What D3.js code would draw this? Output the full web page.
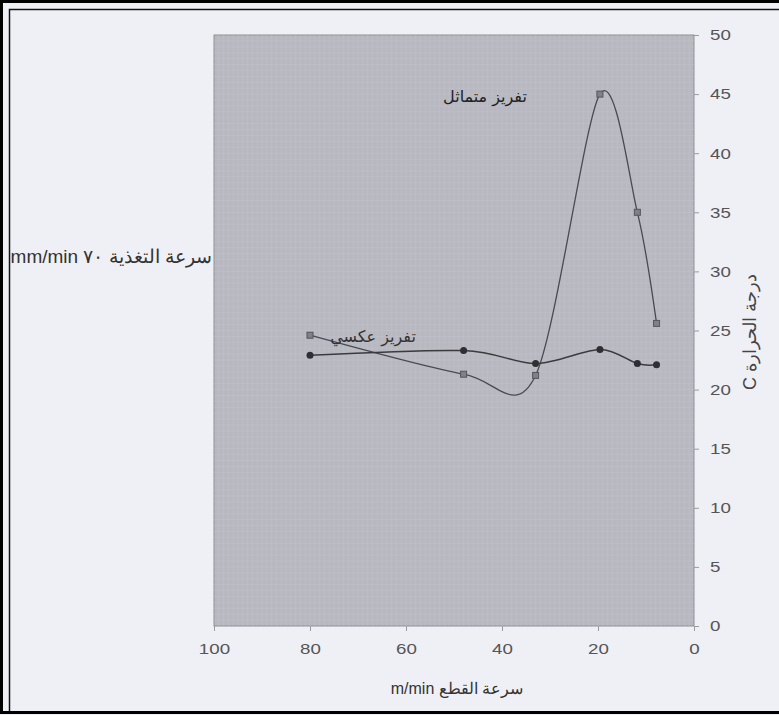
<!DOCTYPE html>
<html>
<head>
<meta charset="utf-8">
<script src="https://cdnjs.cloudflare.com/ajax/libs/d3/7.8.5/d3.min.js"></script>
<style>
  body { margin: 0; background: #eff0f5; }
  svg { display: block; font-family: "Liberation Sans", Arial, sans-serif; }
</style>
</head>
<body>
<div class="chart"></div>
<script>
// Data
var speeds = [80, 48, 33, 19.6, 11.8, 7.8];            // سرعة القطع m/min
var tempSquare = [24.6, 21.3, 21.2, 45.0, 35.0, 25.6];  // series with square markers
var tempCircle = [22.9, 23.3, 22.2, 23.4, 22.2, 22.1];  // series with round markers
var xTicks = [100, 80, 60, 40, 20, 0];
var yTicks = [0, 5, 10, 15, 20, 25, 30, 35, 40, 45, 50];

var svgWidth = 779;
var svgHeight = 715;

var svg = d3.select(".chart")
  .append("svg")
  .attr("width", svgWidth)
  .attr("height", svgHeight);

// page background
svg.append("rect")
  .attr("width", svgWidth)
  .attr("height", svgHeight)
  .attr("fill", "#eff0f5");

// scales (x runs backwards, 100 on the left)
var x = d3.scaleLinear().domain([100, 0]).range([214, 694]);
var y = d3.scaleLinear().domain([0, 50]).range([626, 35]);

// plot area
svg.append("rect")
  .attr("x", x(100))
  .attr("y", y(50))
  .attr("width", x(0) - x(100))
  .attr("height", y(0) - y(50))
  .attr("fill", "#b8b8c0")
  .attr("stroke", "#8f8f96")
  .attr("stroke-width", 1);

// fine paper grid texture
var grid = svg.append("g").attr("stroke", "#cacad1").attr("stroke-width", 0.6).attr("opacity", 0.55);
grid.selectAll(".vg")
  .data(d3.range(1, 100, 1))
  .enter().append("line")
    .attr("x1", function(d) { return x(d); })
    .attr("x2", function(d) { return x(d); })
    .attr("y1", y(50))
    .attr("y2", y(0));
grid.selectAll(".hg")
  .data(d3.range(0.5, 50, 0.5))
  .enter().append("line")
    .attr("y1", function(d) { return y(d); })
    .attr("y2", function(d) { return y(d); })
    .attr("x1", x(100))
    .attr("x2", x(0));

// axes
var stretch = 1.25;   // the scanned labels are wider than they are tall

var xAxis = svg.append("g")
  .attr("transform", "translate(0," + y(0) + ")")
  .call(d3.axisBottom(x).tickValues(xTicks).tickSize(5).tickPadding(12));
var yAxis = svg.append("g")
  .attr("transform", "translate(" + x(0) + ",0)")
  .call(d3.axisRight(y).tickValues(yTicks).tickSize(5).tickPadding(11));

[xAxis, yAxis].forEach(function(a) {
  a.select(".domain").remove();
  a.selectAll(".tick line").attr("stroke", "#9a9aa0");
  a.selectAll(".tick text")
    .attr("fill", "#555")
    .style("font-size", "15px")
    .style("font-family", "'Liberation Sans', Arial, sans-serif");
});
xAxis.selectAll(".tick text").attr("transform", "scale(" + stretch + ",1)");
yAxis.selectAll(".tick text")
  .attr("x", 16 / stretch)
  .attr("transform", "scale(" + stretch + ",1)");

// lines
var pointsSquare = speeds.map(function(s, i) { return [s, tempSquare[i]]; });
var pointsCircle = speeds.map(function(s, i) { return [s, tempCircle[i]]; });

var line = d3.line()
  .x(function(d) { return x(d[0]); })
  .y(function(d) { return y(d[1]); })
  .curve(d3.curveCardinal.tension(0.1));

svg.append("path")
  .datum(pointsSquare)
  .attr("d", line)
  .attr("fill", "none")
  .attr("stroke", "#4a4a52")
  .attr("stroke-width", 1.3);

svg.append("path")
  .datum(pointsCircle)
  .attr("d", line)
  .attr("fill", "none")
  .attr("stroke", "#3a3a40")
  .attr("stroke-width", 1.5);

// markers
svg.selectAll(".sq")
  .data(pointsSquare)
  .enter().append("rect")
    .attr("x", function(d) { return x(d[0]) - 3; })
    .attr("y", function(d) { return y(d[1]) - 3; })
    .attr("width", 6)
    .attr("height", 6)
    .attr("fill", "#808088")
    .attr("stroke", "#55555c")
    .attr("stroke-width", 1);

svg.selectAll(".ci")
  .data(pointsCircle)
  .enter().append("circle")
    .attr("cx", function(d) { return x(d[0]); })
    .attr("cy", function(d) { return y(d[1]); })
    .attr("r", 3.5)
    .attr("fill", "#2e2e33");

// annotations in the plot
svg.append("text")
  .attr("x", 485)
  .attr("y", 102)
  .attr("text-anchor", "middle")
  .attr("fill", "#222")
  .style("font-size", "16px")
  .style("font-family", "'DejaVu Sans', sans-serif")
  .text("تفريز متماثل");

svg.append("text")
  .attr("x", 373)
  .attr("y", 342)
  .attr("text-anchor", "middle")
  .attr("fill", "#333")
  .style("font-size", "16px")
  .style("font-family", "'DejaVu Sans', sans-serif")
  .text("تفريز عكسي");

// axis titles
svg.append("text")
  .attr("x", 457)
  .attr("y", 694)
  .attr("text-anchor", "middle")
  .attr("direction", "rtl")
  .attr("fill", "#333")
  .style("font-size", "16px")
  .text("سرعة القطع m/min");

svg.append("text")
  .attr("transform", "translate(756,332) rotate(-90)")
  .attr("text-anchor", "middle")
  .attr("direction", "rtl")
  .attr("fill", "#444")
  .style("font-size", "18px")
  .text("درجة الحرارة C");

svg.append("text")
  .attr("x", 212)
  .attr("y", 263)
  .attr("text-anchor", "start")
  .attr("direction", "rtl")
  .attr("fill", "#333")
  .style("font-size", "19px")
  .text("سرعة التغذية ٧٠ mm/min");

// scanned page frame
svg.append("rect")
  .attr("x", 1.5)
  .attr("y", 1.5)
  .attr("width", svgWidth + 5)
  .attr("height", svgHeight - 4)
  .attr("fill", "none")
  .attr("stroke", "#000")
  .attr("stroke-width", 3);
svg.append("path")
  .attr("d", "M9.5," + (svgHeight - 4) + "V9.5H" + svgWidth)
  .attr("fill", "none")
  .attr("stroke", "#111")
  .attr("stroke-width", 1.5);
</script>
</body>
</html>
